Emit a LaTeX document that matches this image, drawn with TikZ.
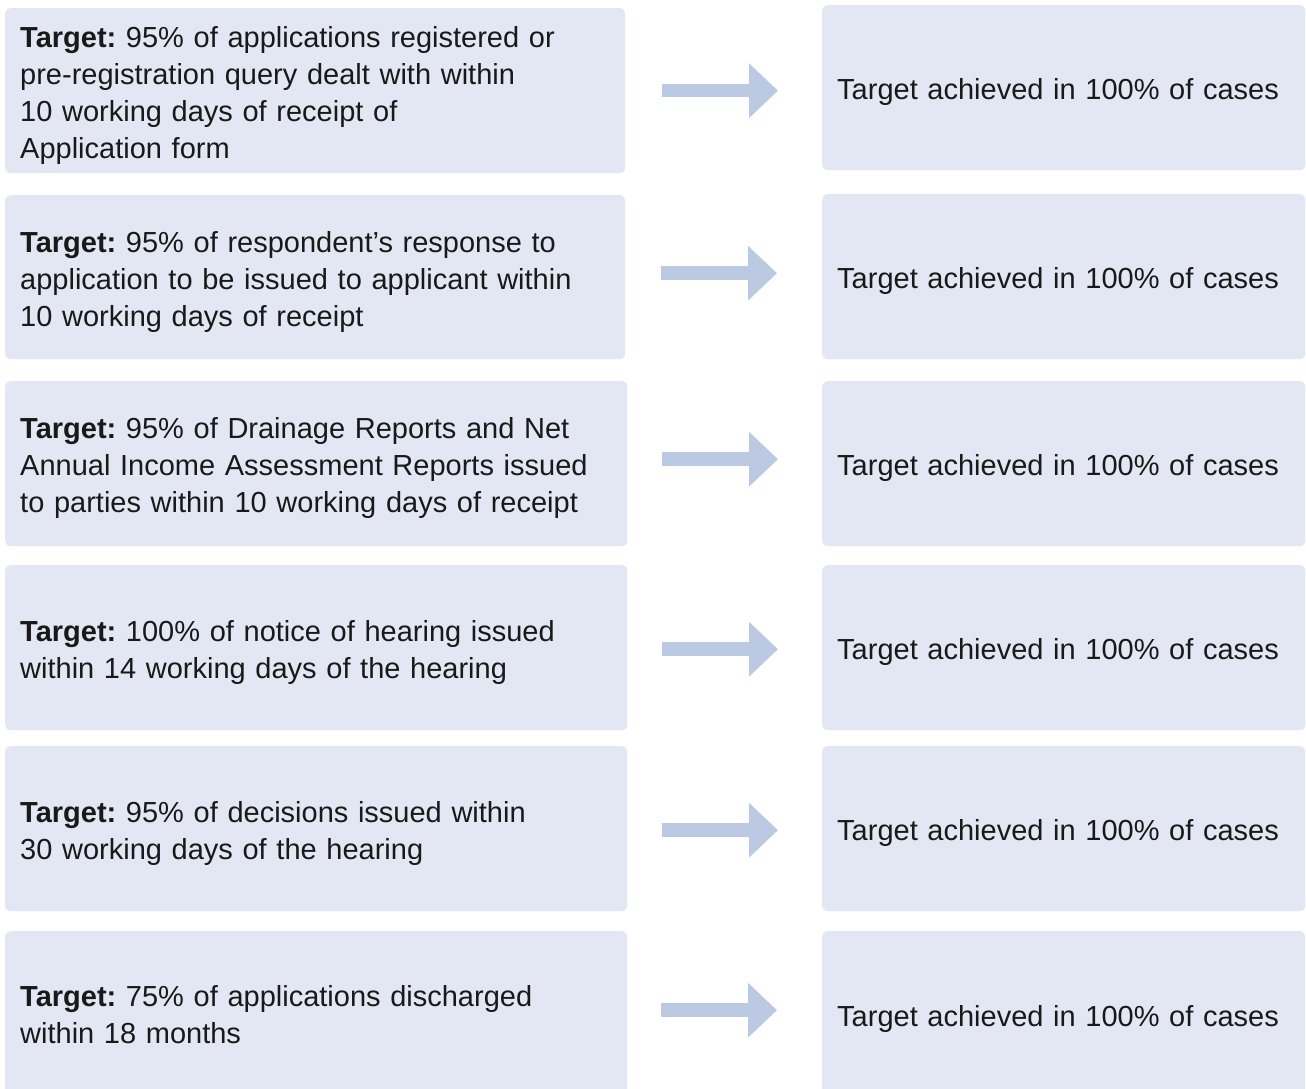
\documentclass[tikz,border=0pt]{standalone}
\usepackage{fontspec}
\setmainfont{Liberation Sans}
\frenchspacing
\usetikzlibrary{arrows.meta}
\definecolor{boxfill}{HTML}{E3E7F3}
\definecolor{arrfill}{HTML}{BCC9E3}
\newcommand{\lowstrut}{\rule{0pt}{30pt}}
\begin{document}
\begin{tikzpicture}[x=1pt,y=1pt,
  box/.style={draw=none, fill=boxfill, rounded corners=5pt, anchor=north west,
    align=left, inner xsep=15pt, inner ysep=0pt,
    font=\fontsize{29}{37}\selectfont, text=black!90},
  lbox/.style={box, text width=#1},
  rbox/.style={box, text width=453pt},
  arr/.style={draw=arrfill, line width=13.5pt,
    -{Triangle[length=29pt,width=53pt,fill=arrfill]}}
]
\useasboundingbox[fill=white] (0,0) rectangle (1306,-1088);
% left boxes
\node[lbox=590pt, minimum height=165pt] (L1) at (5,-8) {\lowstrut\textbf{Target:} 95\% of applications registered or\\pre-registration query dealt with within\\10 working days of receipt of\\Application form};
\node[lbox=590pt, minimum height=164pt] (L2) at (5,-195) {\lowstrut\textbf{Target:} 95\% of respondent’s response to\\application to be issued to applicant within\\10 working days of receipt};
\node[lbox=592pt, minimum height=165pt] (L3) at (5,-381) {\lowstrut\textbf{Target:} 95\% of Drainage Reports and Net\\Annual Income Assessment Reports issued\\to parties within 10 working days of receipt};
\node[lbox=592pt, minimum height=165pt] (L4) at (5,-565) {\lowstrut\textbf{Target:} 100\% of notice of hearing issued\\within 14 working days of the hearing};
\node[lbox=592pt, minimum height=165pt] (L5) at (5,-746) {\lowstrut\textbf{Target:} 95\% of decisions issued within\\30 working days of the hearing};
\node[lbox=592pt, minimum height=166pt] (L6) at (5,-931) {\textbf{Target:} 75\% of applications discharged\\within 18 months};
% right boxes
\node[rbox, minimum height=165pt] (R1) at (822,-5) {\lowstrut Target achieved in 100\% of cases};
\node[rbox, minimum height=165pt] (R2) at (822,-194) {\lowstrut Target achieved in 100\% of cases};
\node[rbox, minimum height=165pt] (R3) at (822,-381) {\lowstrut Target achieved in 100\% of cases};
\node[rbox, minimum height=165pt] (R4) at (822,-565) {\lowstrut Target achieved in 100\% of cases};
\node[rbox, minimum height=165pt] (R5) at (822,-746) {\lowstrut Target achieved in 100\% of cases};
\node[rbox, minimum height=166pt] (R6) at (822,-931) {\lowstrut Target achieved in 100\% of cases};
% arrows
\draw[arr] ([xshift=37pt]L1.east) -- ([xshift=-44pt]R1.west |- L1.east);
\draw[arr] ([xshift=36pt,yshift=4pt]L2.east) -- ([xshift=-45pt,yshift=4pt]R2.west |- L2.east);
\draw[arr] ([xshift=35pt,yshift=4.5pt]L3.east) -- ([xshift=-44pt,yshift=4.5pt]R3.west |- L3.east);
\draw[arr] ([xshift=35pt,yshift=-1.5pt]L4.east) -- ([xshift=-44pt,yshift=-1.5pt]R4.west |- L4.east);
\draw[arr] ([xshift=35pt,yshift=-1.5pt]L5.east) -- ([xshift=-44pt,yshift=-1.5pt]R5.west |- L5.east);
\draw[arr] ([xshift=34pt,yshift=4pt]L6.east) -- ([xshift=-45pt,yshift=4pt]R6.west |- L6.east);
\end{tikzpicture}
\end{document}
